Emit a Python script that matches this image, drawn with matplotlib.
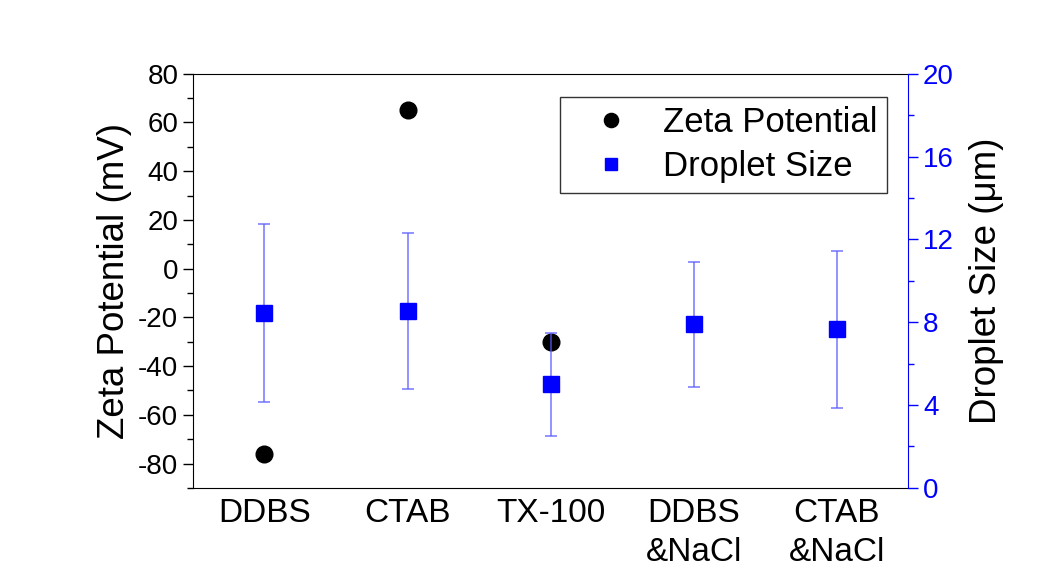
import matplotlib.pyplot as plt
from matplotlib.ticker import MultipleLocator

plt.rcParams['font.family'] = ['Liberation Sans', 'DejaVu Sans']
plt.rcParams['axes.unicode_minus'] = False

# surfactant systems on the x axis
categories = ["DDBS", "CTAB", "TX-100", "DDBS\n&NaCl", "CTAB\n&NaCl"]
positions = [1, 2, 3, 4, 5]

# zeta potential (mV), measured only for the single-surfactant systems
zeta_pos = [1, 2, 3]
zeta_mv = [-76, 65, -30]

# droplet size (um) with standard deviation
droplet_um = [8.45, 8.55, 5.0, 7.9, 7.65]
droplet_err = [4.3, 3.77, 2.5, 3.03, 3.77]

BLUE = "#0000ff"

fig = plt.figure(figsize=(10.37, 5.76), dpi=100)
ax = fig.add_axes([0.186, 0.153, 0.690, 0.719])
ax2 = ax.twinx()

ax.plot(zeta_pos, zeta_mv, "o", color="black", markersize=12,
        linestyle="none", label="Zeta Potential", zorder=3)

eb = ax2.errorbar(positions, droplet_um, yerr=droplet_err, fmt="s",
                  color=BLUE, markersize=11, ecolor=(0.35, 0.35, 1.0, 0.7),
                  elinewidth=1.3, capsize=4, capthick=1.3,
                  label="Droplet Size", zorder=4)

ax.set_xlim(0.5, 5.5)
ax.set_ylim(-90, 80)
ax2.set_ylim(0, 20)

ax.set_xticks(positions)
ax.set_xticklabels(categories, fontsize=24, linespacing=1.35)
ax.tick_params(axis="x", length=0, pad=7)

ax.yaxis.set_major_locator(MultipleLocator(20))
ax.yaxis.set_minor_locator(MultipleLocator(10))
ax.tick_params(axis="y", which="major", direction="out", length=7,
               width=1, labelsize=20)
ax.tick_params(axis="y", which="minor", direction="out", length=4, width=1)
ax.set_ylabel("Zeta Potential (mV)", fontsize=26.5, labelpad=4)

ax2.yaxis.set_major_locator(MultipleLocator(4))
ax2.yaxis.set_minor_locator(MultipleLocator(2))
ax2.tick_params(axis="y", which="major", direction="out", length=7,
                width=1, colors=BLUE, labelsize=20)
ax2.tick_params(axis="y", which="minor", direction="out", length=4,
                width=1, colors=BLUE)
ax2.set_ylabel("Droplet Size (\u03bcm)", fontsize=26.5, color="black",
               labelpad=11)

ax2.spines["right"].set_color(BLUE)
ax.spines["right"].set_visible(False)
for sp in ["left", "top", "bottom"]:
    ax2.spines[sp].set_visible(False)
    ax.spines[sp].set_color("black")

h1, l1 = ax.get_legend_handles_labels()
h2, l2 = ax2.get_legend_handles_labels()
leg = ax2.legend(h1 + [eb[0]], l1 + l2, loc="upper right",
                 bbox_to_anchor=(0.9706, 0.9444), fontsize=25,
                 frameon=True, fancybox=False, borderaxespad=0,
                 handlelength=2.4, handletextpad=0.3, borderpad=0.28,
                 labelspacing=0.3, markerscale=0.85)
leg.get_frame().set_edgecolor("black")
leg.get_frame().set_linewidth(1)

fig.savefig("out.png", dpi=100)
